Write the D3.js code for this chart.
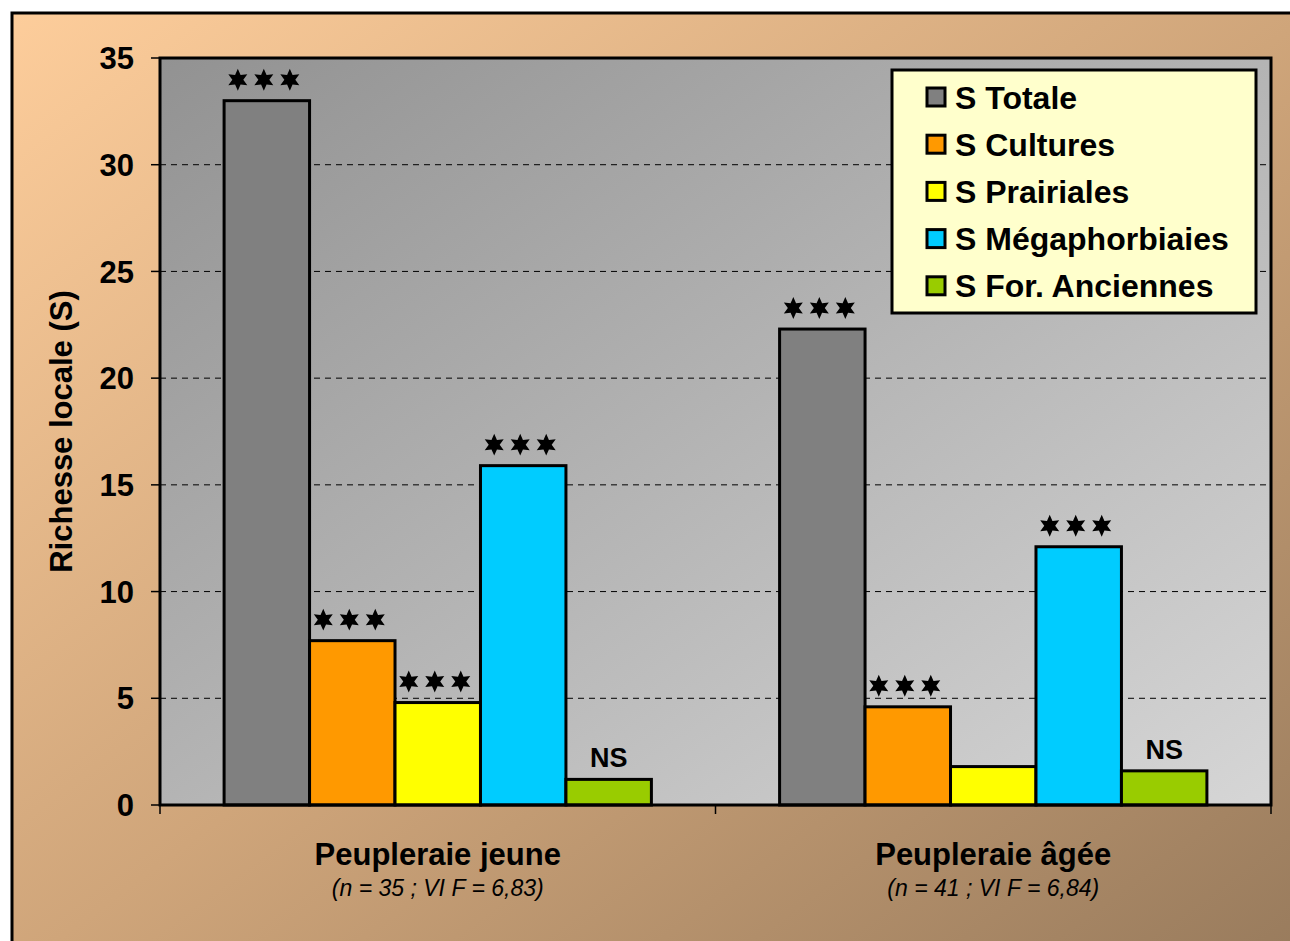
<!DOCTYPE html>
<html>
<head>
<meta charset="utf-8">
<script src="https://cdn.jsdelivr.net/npm/d3@7"></script>
<style>
  body { margin: 0; background: #fff; }
  svg { display: block; font-family: "Liberation Sans", Arial, sans-serif; }
</style>
</head>
<body>
<div class="svg-container"></div>
<script>
// chart data
var sites = ["Peupleraie jeune", "Peupleraie âgée"];
var siteNotes = ["(n = 35 ; VI F = 6,83)", "(n = 41 ; VI F = 6,84)"];
var seriesNames = ["S Totale", "S Cultures", "S Prairiales", "S Mégaphorbiaies", "S For. Anciennes"];
var seriesColors = ["#808080", "#FF9900", "#FFFF00", "#00CCFF", "#99CC00"];
var valuesJeune = [33.0, 7.7, 4.8, 15.9, 1.2];
var valuesAgee = [22.3, 4.6, 1.8, 12.1, 1.6];
// "***" = three stars, "NS" = not significant, "" = nothing
var signifJeune = ["***", "***", "***", "***", "NS"];
var signifAgee = ["***", "***", "", "***", "NS"];
var yTicks = [0, 5, 10, 15, 20, 25, 30, 35];

var width = 1290, height = 941;
var plot = {left: 160, top: 58, right: 1271, bottom: 805};

var svg = d3.select(".svg-container").append("svg")
  .attr("width", width)
  .attr("height", height);

var defs = svg.append("defs");
var bgGrad = defs.append("linearGradient").attr("id", "bgGrad")
  .attr("x1", "0").attr("y1", "0").attr("x2", "1").attr("y2", "1");
bgGrad.append("stop").attr("offset", "0%").attr("stop-color", "#FDCD9B");
bgGrad.append("stop").attr("offset", "50%").attr("stop-color", "#CFA57A");
bgGrad.append("stop").attr("offset", "100%").attr("stop-color", "#977A5C");

var plotGrad = defs.append("linearGradient").attr("id", "plotGrad")
  .attr("x1", "0").attr("y1", "0").attr("x2", "1").attr("y2", "1");
plotGrad.append("stop").attr("offset", "0%").attr("stop-color", "#929292");
plotGrad.append("stop").attr("offset", "100%").attr("stop-color", "#D6D6D6");

// six-pointed star used for the significance marks
var star6 = {
  draw: function(context, size) {
    var R = Math.sqrt(size), r = R * 0.5;
    for (var k = 0; k < 12; k++) {
      var a = -Math.PI / 2 + k * Math.PI / 6;
      var rad = (k % 2 === 0) ? R : r;
      if (k === 0) context.moveTo(rad * Math.cos(a), rad * Math.sin(a));
      else context.lineTo(rad * Math.cos(a), rad * Math.sin(a));
    }
    context.closePath();
  }
};

// outer frame (runs past the right and bottom edges)
svg.append("rect")
  .attr("x", 12).attr("y", 13)
  .attr("width", 1300).attr("height", 960)
  .attr("fill", "url(#bgGrad)")
  .attr("stroke", "#000").attr("stroke-width", 3);

var y = d3.scaleLinear().domain([0, 35]).range([plot.bottom, plot.top]);
var x0 = d3.scaleBand().domain(sites).range([plot.left, plot.right]).paddingInner(0).paddingOuter(0);
// Excel-like gap width: 1.5 bar widths split on both sides
var x1 = d3.scaleBand().domain(seriesNames).range([0, x0.bandwidth()])
  .paddingInner(0).paddingOuter(0.75);

svg.append("rect")
  .attr("x", plot.left).attr("y", plot.top)
  .attr("width", plot.right - plot.left).attr("height", plot.bottom - plot.top)
  .attr("fill", "url(#plotGrad)");

// gridlines
svg.append("g").selectAll("line").data(yTicks.filter(function(d){ return d > 0 && d < 35; }))
  .enter().append("line")
  .attr("x1", plot.left).attr("x2", plot.right)
  .attr("y1", function(d){ return y(d); }).attr("y2", function(d){ return y(d); })
  .attr("stroke", "#000").attr("stroke-width", 1)
  .attr("stroke-dasharray", "6,5");

var groups = [
  {site: sites[0], values: valuesJeune, signif: signifJeune},
  {site: sites[1], values: valuesAgee, signif: signifAgee}
];

groups.forEach(function(g) {
  var gx = x0(g.site);
  var cells = seriesNames.map(function(name, i) {
    return {name: name, value: g.values[i], color: seriesColors[i], label: g.signif[i]};
  });
  var grp = svg.append("g").attr("transform", "translate(" + gx + ",0)");
  grp.selectAll("rect").data(cells).enter().append("rect")
    .attr("x", function(d){ return x1(d.name); })
    .attr("y", function(d){ return y(d.value); })
    .attr("width", x1.bandwidth())
    .attr("height", function(d){ return y(0) - y(d.value); })
    .attr("fill", function(d){ return d.color; })
    .attr("stroke", "#000").attr("stroke-width", 3);

  // NS labels as text
  grp.selectAll("text.sig").data(cells.filter(function(d){ return d.label === "NS"; }))
    .enter().append("text")
    .attr("class", "sig")
    .attr("x", function(d){ return x1(d.name) + x1.bandwidth() / 2; })
    .attr("y", function(d){ return y(d.value) - 12; })
    .attr("text-anchor", "middle")
    .attr("font-weight", "bold")
    .attr("font-size", 27)
    .text(function(d){ return d.label; });

  // three stars above the bar
  var starred = cells.filter(function(d){ return d.label === "***"; });
  starred.forEach(function(d) {
    var cx = x1(d.name) + x1.bandwidth() / 2 - 3;
    [-1, 0, 1].forEach(function(k) {
      grp.append("path")
        .attr("d", d3.symbol().type(star6).size(120)())
        .attr("transform", "translate(" + (cx + k * 26) + "," + (y(d.value) - 21) + ")")
        .attr("fill", "#000");
    });
  });
});

// plot border
svg.append("rect")
  .attr("x", plot.left).attr("y", plot.top)
  .attr("width", plot.right - plot.left).attr("height", plot.bottom - plot.top)
  .attr("fill", "none").attr("stroke", "#000").attr("stroke-width", 3);

// y axis ticks and labels
var yAxis = svg.append("g");
yAxis.selectAll("line").data(yTicks).enter().append("line")
  .attr("x1", plot.left - 9).attr("x2", plot.left)
  .attr("y1", function(d){ return y(d); }).attr("y2", function(d){ return y(d); })
  .attr("stroke", "#000").attr("stroke-width", 1.5);
yAxis.selectAll("text").data(yTicks).enter().append("text")
  .attr("x", 134)
  .attr("y", function(d){ return y(d); })
  .attr("dy", "0.36em")
  .attr("text-anchor", "end")
  .attr("font-weight", "bold").attr("font-size", 31)
  .text(function(d){ return d; });

svg.append("text")
  .attr("transform", "translate(72," + ((plot.top + plot.bottom) / 2) + ") rotate(-90)")
  .attr("text-anchor", "middle")
  .attr("font-weight", "bold").attr("font-size", 31)
  .text("Richesse locale (S)");

// x axis ticks
var xTicks = [plot.left, plot.left + x0.bandwidth(), plot.right];
svg.append("g").selectAll("line").data(xTicks).enter().append("line")
  .attr("x1", function(d){ return d; }).attr("x2", function(d){ return d; })
  .attr("y1", plot.bottom).attr("y2", plot.bottom + 9)
  .attr("stroke", "#000").attr("stroke-width", 1.5);

sites.forEach(function(s, i) {
  var cx = x0(s) + x0.bandwidth() / 2;
  svg.append("text")
    .attr("x", cx).attr("y", 865)
    .attr("text-anchor", "middle")
    .attr("font-weight", "bold").attr("font-size", 31)
    .text(s);
  svg.append("text")
    .attr("x", cx).attr("y", 896)
    .attr("text-anchor", "middle")
    .attr("font-style", "italic").attr("font-size", 23)
    .text(siteNotes[i]);
});

// legend
var legend = svg.append("g").attr("transform", "translate(892,70)");
legend.append("rect")
  .attr("width", 364).attr("height", 243)
  .attr("fill", "#FFFFCC")
  .attr("stroke", "#000").attr("stroke-width", 3);
var items = legend.selectAll("g").data(seriesNames).enter().append("g")
  .attr("transform", function(d, i){ return "translate(0," + (27 + i * 47.2) + ")"; });
items.append("rect")
  .attr("x", 35).attr("y", -9)
  .attr("width", 18).attr("height", 18)
  .attr("fill", function(d, i){ return seriesColors[i]; })
  .attr("stroke", "#000").attr("stroke-width", 3);
items.append("text")
  .attr("x", 63).attr("dy", "0.36em")
  .attr("font-weight", "bold").attr("font-size", 32)
  .text(function(d){ return d; });
</script>
</body>
</html>
